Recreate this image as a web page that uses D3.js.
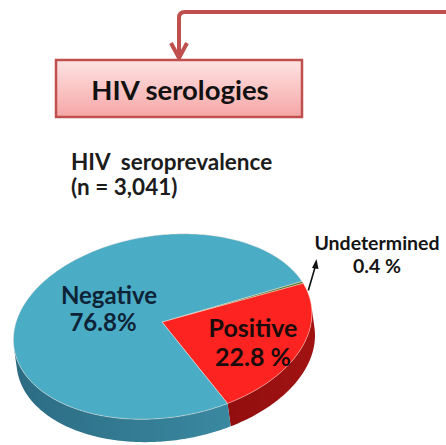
<!DOCTYPE html>
<html>
<head>
<meta charset="utf-8">
<script src="https://cdn.jsdelivr.net/npm/d3@7"></script>
<style>
  body { margin: 0; background: #fff; }
  svg { display: block; }
  text { font-family: Lato, "Open Sans", sans-serif; font-weight: bold; }
</style>
</head>
<body>
<script>
// chart data
var categories = ['Undetermined', 'Positive', 'Negative'];
var percents = [0.4, 22.8, 76.8];
var percentLabels = ['0.4 %', '22.8 %', '76.8%'];
var boxTitle = 'HIV serologies';
var chartTitle = ['HIV\u00a0\u00a0seroprevalence', '(n = 3,041)'];

var width = 446, height = 445;

var svg = d3.select('body').append('svg')
    .attr('width', width)
    .attr('height', height);

var defs = svg.append('defs');

// box gradient
var boxGrad = defs.append('linearGradient').attr('id', 'boxGrad')
    .attr('x1', 0).attr('y1', 0).attr('x2', 0).attr('y2', 1);
boxGrad.append('stop').attr('offset', '0%').attr('stop-color', '#fee3e3');
boxGrad.append('stop').attr('offset', '100%').attr('stop-color', '#f6a6a6');

// side gradients
function sideGradient(id, c1, c2) {
    var g = defs.append('linearGradient').attr('id', id)
        .attr('gradientUnits', 'userSpaceOnUse')
        .attr('x1', 10).attr('y1', 0).attr('x2', 310).attr('y2', 0);
    g.append('stop').attr('offset', '0%').attr('stop-color', c1);
    g.append('stop').attr('offset', '100%').attr('stop-color', c2);
}
sideGradient('sideBlue', '#2b6b82', '#3f93ab');
sideGradient('sideRed', '#6e0606', '#a01212');
sideGradient('sideGreen', '#2f5216', '#3f6a20');

var topColors = { Negative: '#4bacc6', Positive: '#fd2320', Undetermined: '#4d7a2c' };
var sideColors = { Negative: 'url(#sideBlue)', Positive: 'url(#sideRed)', Undetermined: 'url(#sideGreen)' };

// ---- connector and box ----
var red = '#c0504d';
svg.append('path')
    .attr('d', 'M446,12 H185 Q179,12 179,18 V58')
    .attr('fill', 'none').attr('stroke', red).attr('stroke-width', 4);
svg.append('path')
    .attr('d', 'M171,43 L179,58 L187,43')
    .attr('fill', 'none').attr('stroke', red).attr('stroke-width', 4)
    .attr('stroke-linejoin', 'miter');

svg.append('rect')
    .attr('x', 56).attr('y', 60).attr('width', 246).attr('height', 57)
    .attr('fill', 'url(#boxGrad)').attr('stroke', red).attr('stroke-width', 2.5);
svg.append('text')
    .attr('x', 180).attr('y', 100)
    .attr('text-anchor', 'middle')
    .attr('font-size', 27.5).attr('fill', '#111')
    .text(boxTitle);

// ---- chart title ----
svg.selectAll('.ctitle').data(chartTitle).enter().append('text')
    .attr('class', 'ctitle')
    .attr('x', 71).attr('y', function (d, i) { return 170 + i * 25; })
    .attr('font-size', 22.5).attr('fill', '#1c1c1c')
    .text(function (d) { return d; });

// ---- 3D pie ----
var CX = 162, CY = 322, RX = 150, RY = 91, P = 0.05, H = 22;
var phi = -8 * Math.PI / 180;
var cosP = Math.cos(phi), sinP = Math.sin(phi);
var startDeg = -13.4; // angle from east, clockwise on screen

function proj(theta, depth) {
    var c = Math.cos(theta), s = Math.sin(theta);
    var w = 1 / (1 - P * s);
    var X = RX * c * w, Y = RY * s * w + depth * w;
    return [CX + X * cosP - Y * sinP, CY + X * sinP + Y * cosP];
}

function arcPoints(t1, t2, depth) {
    var n = Math.max(2, Math.ceil(Math.abs(t2 - t1) / (Math.PI / 180)));
    return d3.range(n + 1).map(function (i) { return proj(t1 + (t2 - t1) * i / n, depth); });
}

var pie = d3.pie().sort(null)
    .startAngle((startDeg + 90) * Math.PI / 180)
    .endAngle((startDeg + 90) * Math.PI / 180 + 2 * Math.PI);
var arcs = pie(percents).map(function (a, i) {
    return { name: categories[i], t1: a.startAngle - Math.PI / 2, t2: a.endAngle - Math.PI / 2 };
});

var line = d3.line();
var visLo = Math.asin(P), visHi = Math.PI - Math.asin(P);

// sides (front part only)
arcs.forEach(function (a) {
    // test the slice in two turns to catch wrap-around
    [0, 2 * Math.PI, -2 * Math.PI].forEach(function (off) {
        var lo = Math.max(a.t1 + off, visLo), hi = Math.min(a.t2 + off, visHi);
        if (hi <= lo) return;
        var pts = arcPoints(lo, hi, 0).concat(arcPoints(hi, lo, H));
        svg.append('path')
            .attr('d', line(pts) + 'Z')
            .attr('fill', sideColors[a.name]);
    });
});

// tops
arcs.forEach(function (a) {
    var pts = [[CX, CY]].concat(arcPoints(a.t1, a.t2, 0));
    svg.append('path')
        .attr('d', line(pts) + 'Z')
        .attr('fill', topColors[a.name])
        .attr('stroke', 'rgba(255,235,220,0.55)')
        .attr('stroke-width', 0.8)
        .attr('stroke-linejoin', 'round');
});

// ---- labels ----
var labelPos = {
    Negative: { x: 109, y: 304, size: 24, fill: '#0e2436', gap: 27 },
    Positive: { x: 253, y: 337, size: 25, fill: '#1a0c0c', gap: 29 },
    Undetermined: { x: 377, y: 250, size: 19.5, fill: '#141414', gap: 23 }
};
categories.forEach(function (name, i) {
    var p = labelPos[name];
    var t = svg.append('text')
        .attr('text-anchor', 'middle')
        .attr('font-size', p.size).attr('fill', p.fill);
    t.append('tspan').attr('x', p.x).attr('y', p.y).text(name);
    t.append('tspan').attr('x', p.x - (name === 'Negative' ? 6 : 0)).attr('y', p.y + p.gap).text(percentLabels[i]);
});

// leader arrow for undetermined slice
var tip = proj(-3 * Math.PI / 180, 0);
svg.append('path')
    .attr('d', 'M' + (tip[0] - 1) + ',' + (tip[1] - 6) + ' L316,264')
    .attr('stroke', '#111').attr('stroke-width', 1.6).attr('fill', 'none');
svg.append('path')
    .attr('d', 'M312,268 L316.5,259 L318.5,269 Z')
    .attr('fill', '#111');
</script>
</body>
</html>
